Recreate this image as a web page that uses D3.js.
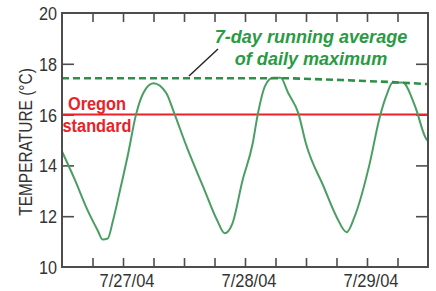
<!DOCTYPE html>
<html>
<head>
<meta charset="utf-8">
<script src="https://cdn.jsdelivr.net/npm/d3@7"></script>
<style>
body { margin: 0; background: #fff; }
svg { display: block; font-family: "Liberation Sans", Arial, sans-serif; }
</style>
</head>
<body>
<svg id="svg_temp" width="436" height="291"></svg>
<script>
// hours since 7/27/04 00:00, water temperature (deg C)
var tempHours = [0, 2.5, 5, 7, 8, 9, 10, 11.5, 13, 14.5, 16, 18, 20.5, 22, 24.5, 28, 30.5, 32, 33.5, 35.5, 37.5, 38.5, 40, 41.5, 43, 44.5, 46.5, 48, 51.5, 54, 56, 57.5, 60.5, 62.5, 64, 65, 67, 69.5, 71.5, 72];
var tempValues = [14.55, 13.45, 12.25, 11.45, 11.08, 11.12, 11.8, 13.1, 14.45, 15.95, 16.85, 17.23, 16.85, 16.1, 14.75, 13.05, 11.85, 11.33, 11.7, 13.4, 14.85, 16.0, 17.15, 17.45, 17.45, 16.85, 16.05, 14.85, 13.15, 11.98, 11.37, 11.95, 14.05, 15.9, 16.85, 17.25, 17.26, 16.3, 15.1, 14.95];
// 7-day running average of daily maximum
var avgHours = [0, 45, 55, 65, 72];
var avgValues = [17.43, 17.43, 17.36, 17.28, 17.2];
var oregonStandard = 16;
var yTicks = [10, 12, 14, 16, 18, 20];
var dayLabels = ["7/27/04", "7/28/04", "7/29/04"];

var start = new Date(2004, 6, 27, 0, 0);
function toDate(h) { return new Date(start.getTime() + h * 3600 * 1000); }

var svg = d3.select("#svg_temp"),
	margin = {left: 62, right: 8, top: 13, bottom: 24},
	width = +svg.attr("width"),
	height = +svg.attr("height");

var x = d3.scaleTime()
	.domain([toDate(0), toDate(72)])
	.range([margin.left, width - margin.right]);
var y = d3.scaleLinear()
	.domain([10, 20])
	.range([height - margin.bottom, margin.top]);

var frameColor = "#4d4d4d";
var sixHours = d3.timeHour.every(6).range(toDate(0), toDate(72)).slice(1);
var innerTicks = yTicks.filter(function(d) { return d != 10 && d != 20; });

// condensed look: squeeze text horizontally around its anchor
function squeeze(sel, sx, fx, fy) {
	sel.attr("transform", function(d, i) {
		return "translate(" + fx(d, i) + "," + fy(d, i) + ") scale(" + sx + ",1)";
	});
}

function styleTicks(g) {
	g.select(".domain").remove();
	g.selectAll("line").attr("stroke", frameColor).attr("stroke-width", 1.6);
}

// ticks pointing inward
svg.append("g")
	.attr("transform", "translate(0," + y(10) + ")")
	.call(d3.axisTop(x).tickValues(sixHours).tickSize(9).tickFormat(""))
	.call(styleTicks);
svg.append("g")
	.attr("transform", "translate(0," + y(20) + ")")
	.call(d3.axisBottom(x).tickValues(sixHours).tickSize(9).tickFormat(""))
	.call(styleTicks);
svg.append("g")
	.attr("transform", "translate(" + margin.left + ",0)")
	.call(d3.axisRight(y).tickValues(innerTicks).tickSize(12).tickFormat(""))
	.call(styleTicks);
svg.append("g")
	.attr("transform", "translate(" + (width - margin.right) + ",0)")
	.call(d3.axisLeft(y).tickValues(innerTicks).tickSize(12).tickFormat(""))
	.call(styleTicks);

// y tick labels
svg.append("g").selectAll("text")
	.data(yTicks).enter().append("text")
	.attr("text-anchor", "end")
	.attr("font-size", 18)
	.attr("fill", "#333")
	.text(function(d) { return d; })
	.call(squeeze, 0.9, function() { return margin.left - 5; }, function(d) { return y(d) + 7; });

// day labels, centred on noon
svg.append("g").selectAll("text")
	.data(dayLabels).enter().append("text")
	.attr("text-anchor", "middle")
	.attr("font-size", 18.5)
	.attr("fill", "#333")
	.text(function(d) { return d; })
	.call(squeeze, 0.89, function(d, i) { return x(toDate(12 + 24 * i)) + 4; }, function() { return height - 4; });

svg.append("text")
	.attr("transform", "translate(32," + ((y(10) + y(20)) / 2 + 2) + ") rotate(-90) scale(0.86,1)")
	.attr("text-anchor", "middle")
	.attr("font-size", 18)
	.attr("fill", "#333")
	.text("TEMPERATURE (°C)");

// Oregon standard
svg.append("line")
	.attr("x1", x(toDate(0))).attr("x2", x(toDate(72)))
	.attr("y1", y(oregonStandard)).attr("y2", y(oregonStandard))
	.attr("stroke", "#ea2228").attr("stroke-width", 2);

var lineT = d3.line()
	.x(function(d) { return x(toDate(d[0])); })
	.y(function(d) { return y(d[1]); })
	.curve(d3.curveMonotoneX);

svg.append("path")
	.attr("d", lineT(d3.zip(tempHours, tempValues)))
	.attr("fill", "none")
	.attr("stroke", "#4a9e62")
	.attr("stroke-width", 2);

svg.append("path")
	.attr("d", lineT.curve(d3.curveLinear)(d3.zip(avgHours, avgValues)))
	.attr("fill", "none")
	.attr("stroke", "#2e8f46")
	.attr("stroke-width", 2.6)
	.attr("stroke-dasharray", "7,4");

svg.append("g").selectAll("text")
	.data(["Oregon", "standard"]).enter().append("text")
	.attr("text-anchor", "middle")
	.attr("font-size", 19)
	.attr("font-weight", "bold")
	.attr("fill", "#ea2228")
	.text(function(d) { return d; })
	.call(squeeze, 0.86, function() { return 97; }, function(d, i) { return 110 + i * 22; });

// annotation for running average
svg.append("line")
	.attr("x1", 218).attr("y1", 49)
	.attr("x2", 189).attr("y2", 76)
	.attr("stroke", "#222").attr("stroke-width", 1.4);
svg.append("g").selectAll("text")
	.data(["7-day running average", "of daily maximum"]).enter().append("text")
	.attr("text-anchor", "middle")
	.attr("font-size", 19)
	.attr("font-weight", "bold")
	.attr("font-style", "italic")
	.attr("fill", "#2a9a44")
	.text(function(d) { return d; })
	.call(squeeze, 0.95, function() { return 311; }, function(d, i) { return 43 + i * 22; });

// frame
svg.append("rect")
	.attr("x", margin.left).attr("y", margin.top)
	.attr("width", width - margin.left - margin.right)
	.attr("height", height - margin.top - margin.bottom)
	.attr("fill", "none")
	.attr("stroke", frameColor)
	.attr("stroke-width", 2);
</script>
</body>
</html>
